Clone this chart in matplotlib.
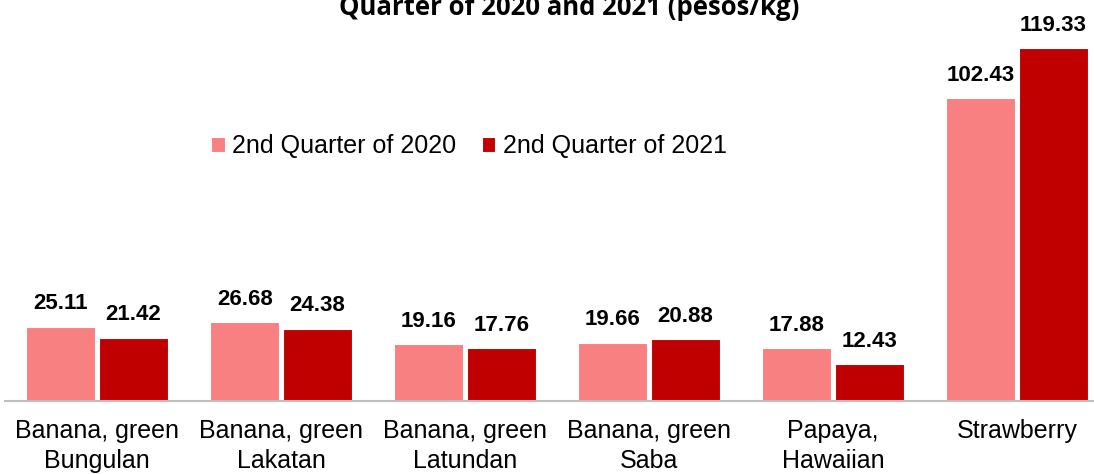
import numpy as np
from matplotlib import pyplot as plt

""" ======================  Data  ====================== """
categories = ['Banana, green\nBungulan', 'Banana, green\nLakatan', 'Banana, green\nLatundan',
              'Banana, green\nSaba', 'Papaya,\nHawaiian', 'Strawberry']
q2_2020 = [25.11, 26.68, 19.16, 19.66, 17.88, 102.43]
q2_2021 = [21.42, 24.38, 17.76, 20.88, 12.43, 119.33]
series_names = ['2nd Quarter of 2020', '2nd Quarter of 2021']
title_text = 'Quarter of 2020 and 2021 (pesos/kg)'

""" ======================  Plot  ====================== """
plt.rcParams['font.family'] = ['Liberation Sans', 'DejaVu Sans']

fig = plt.figure(figsize=(10.94, 4.74), dpi=100)
ax = fig.add_axes([5/1094, 73/474, 1089/1094, 401/474])

x = np.arange(len(categories))
w = 0.375
off = 0.197
b1 = ax.bar(x - off, q2_2020, width=w, color='#F98080', edgecolor='white', linewidth=0.8, label=series_names[0])
b2 = ax.bar(x + off, q2_2021, width=w, color='#C00000', edgecolor='white', linewidth=0.8, label=series_names[1])

for bars in (b1, b2):
    for rect in bars:
        h = rect.get_height()
        ax.annotate('%.2f' % h, (rect.get_x() + rect.get_width()/2, h), xytext=(0, 9),
                    textcoords='offset points', ha='center', va='bottom',
                    fontsize=16, fontweight='bold')

ax.set_xlim(-0.5, 5.418)
ax.set_ylim(0, 135.6)
ax.set_xticks(x)
ax.set_xticklabels(categories, fontsize=18, linespacing=1.3)
ax.tick_params(axis='x', length=0, pad=13)
ax.set_yticks([])
for s in ['top', 'left', 'right']:
    ax.spines[s].set_visible(False)
ax.spines['bottom'].set_color('#BFBFBF')
ax.spines['bottom'].set_linewidth(1.5)

fig.legend(loc='center', bbox_to_anchor=(469/1094, 1 - 146/474), ncol=2, frameon=False,
           fontsize=18, handlelength=0.55, handleheight=0.55, handletextpad=0.3,
           columnspacing=1.0, borderpad=0)

fig.text(569/1094, 1 - 15/474, title_text, ha='center', va='baseline',
         fontsize=18.5, fontweight='bold', family=['Open Sans', 'DejaVu Sans'])

fig.savefig('out.png', dpi=100)
